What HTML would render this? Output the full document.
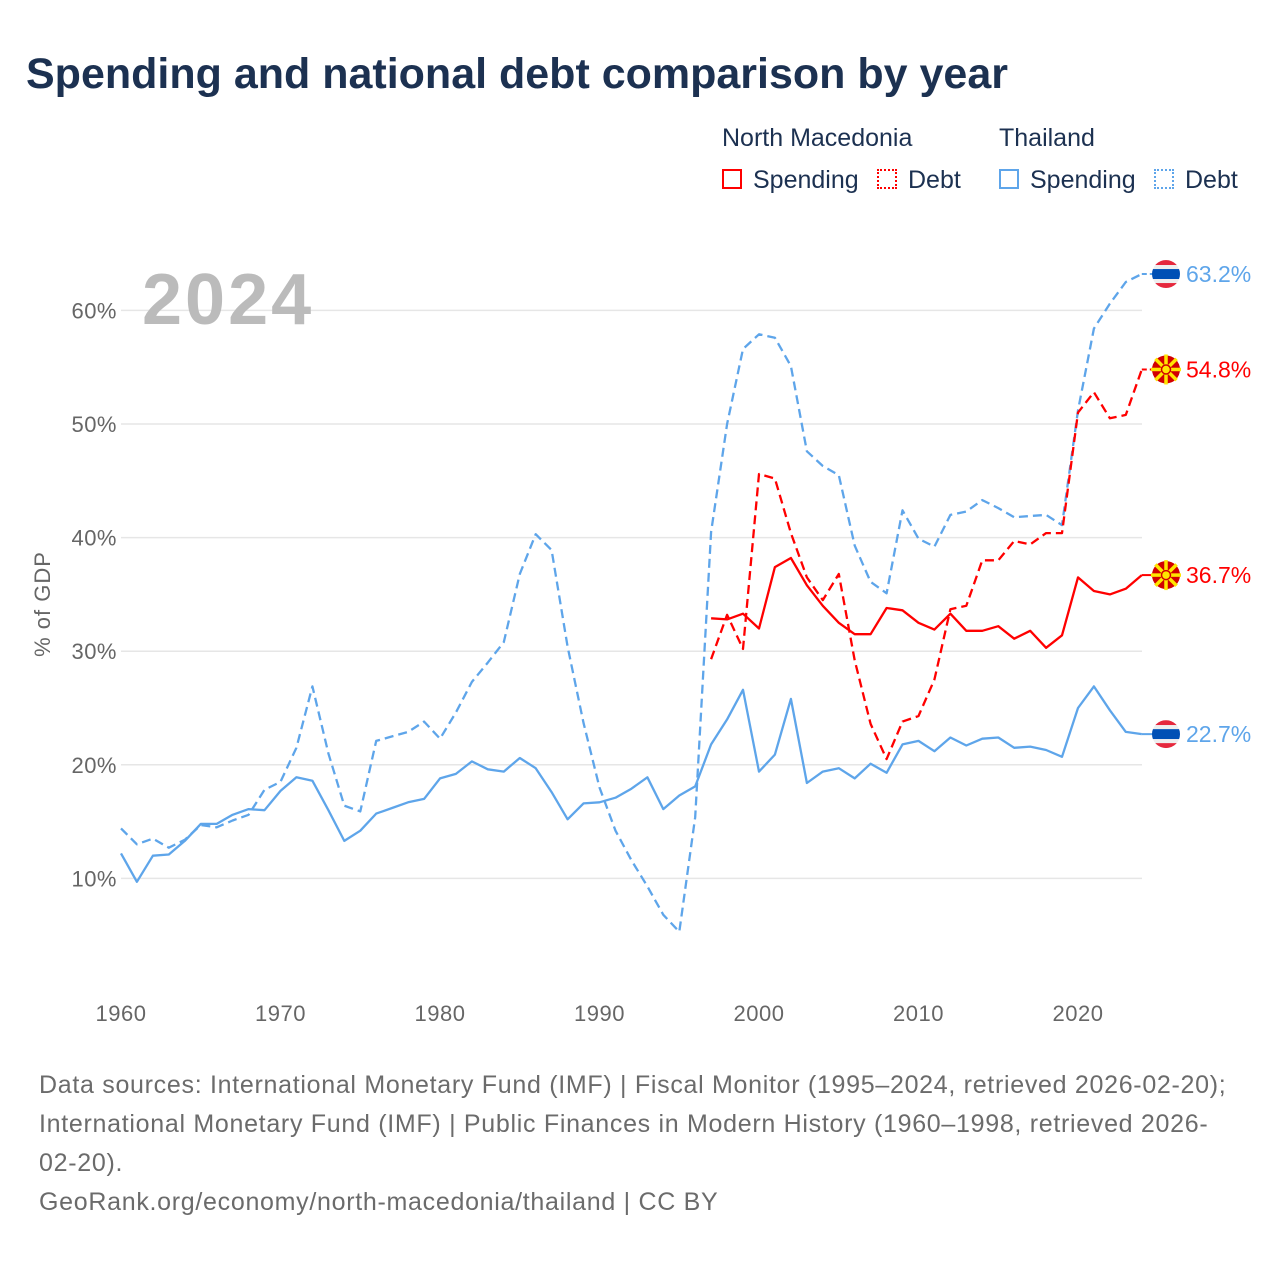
<!DOCTYPE html>
<html><head><meta charset="utf-8"><style>
body{margin:0;background:#fff;font-family:"Liberation Sans",sans-serif;}
#wrap{position:relative;width:1280px;height:1280px;overflow:hidden;}
.title{position:absolute;left:26px;top:50px;font-size:43px;font-weight:bold;color:#1c3151;letter-spacing:0px;}
.lg{position:absolute;font-size:25px;color:#1c3151;}
.box{position:absolute;width:20px;height:20px;box-sizing:border-box;}
.foot{position:absolute;left:39px;top:1066px;font-size:25px;letter-spacing:0.7px;color:#6b6b6b;line-height:39px;width:1200px;}
</style></head><body><div id="wrap">
<div class="title">Spending and national debt comparison by year</div>
<div class="lg" style="left:722px;top:124px">North Macedonia</div>
<div class="lg" style="left:999px;top:124px">Thailand</div>
<div class="box" style="left:722px;top:169px;border:2px solid #f00"></div>
<div class="lg" style="left:753px;top:166px">Spending</div>
<div class="box" style="left:877px;top:169px;border:2px dotted #f00"></div>
<div class="lg" style="left:908px;top:166px">Debt</div>
<div class="box" style="left:999px;top:169px;border:2px solid #5ea5ea"></div>
<div class="lg" style="left:1030px;top:166px">Spending</div>
<div class="box" style="left:1154px;top:169px;border:2px dotted #5ea5ea"></div>
<div class="lg" style="left:1185px;top:166px">Debt</div>
<svg id="chart" width="1280" height="1060" style="position:absolute;left:0;top:0"></svg>
<div class="foot">Data sources: International Monetary Fund (IMF) | Fiscal Monitor (1995–2024, retrieved 2026-02-20); International Monetary Fund (IMF) | Public Finances in Modern History (1960–1998, retrieved 2026-02-20).<br>GeoRank.org/economy/north-macedonia/thailand | CC BY</div>
</div>
<script>
const thaYears0 = 1960;
const thaSpending = [12.2,9.7,12.0,12.1,13.3,14.8,14.8,15.6,16.1,16.0,17.7,18.9,18.6,16.0,13.3,14.2,15.7,16.2,16.7,17.0,18.8,19.2,20.3,19.6,19.4,20.6,19.7,17.6,15.2,16.6,16.7,17.1,17.9,18.9,16.1,17.3,18.1,21.8,24.0,26.6,19.4,20.9,25.8,18.4,19.4,19.7,18.8,20.1,19.3,21.8,22.1,21.2,22.4,21.7,22.3,22.4,21.5,21.6,21.3,20.7,25.0,26.9,24.8,22.9,22.7];
const thaDebt = [14.4,13.0,13.5,12.7,13.4,14.7,14.5,15.1,15.6,17.8,18.5,21.5,26.9,21.0,16.4,15.9,22.1,22.5,22.9,23.8,22.3,24.6,27.3,29.0,30.8,36.8,40.3,38.9,30.4,23.7,18.0,14.2,11.6,9.3,6.8,5.3,15.4,40.5,50.0,56.6,57.9,57.6,55.1,47.6,46.3,45.5,39.3,36.1,35.1,42.4,39.9,39.2,42.0,42.3,43.3,42.6,41.8,41.9,42.0,41.1,51.2,58.4,60.6,62.5,63.2];
const nmkYears0 = 1997;
const nmkSpending = [32.9,32.8,33.3,32.0,37.4,38.2,35.8,34.0,32.5,31.5,31.5,33.8,33.6,32.5,31.9,33.3,31.8,31.8,32.2,31.1,31.8,30.3,31.4,36.5,35.3,35.0,35.5,36.7];
const nmkDebt = [29.3,33.2,30.2,45.6,45.2,40.4,36.5,34.5,36.8,29.2,23.6,20.5,23.8,24.3,27.5,33.7,34.0,38.0,38.0,39.7,39.4,40.4,40.4,51.0,52.8,50.5,50.8,54.8];
const yTicks = [10,20,30,40,50,60];
const xTicks = [1960,1970,1980,1990,2000,2010,2020];

const NS='http://www.w3.org/2000/svg';
const svg=document.getElementById('chart');
const X=y=>121+(y-1960)*15.95;
const Y=v=>992-v*11.36;
function mk(t,a){const e=document.createElementNS(NS,t);for(const k in a)e.setAttribute(k,a[k]);svg.appendChild(e);return e;}
yTicks.forEach(v=>{
  const g=mk('line',{x1:121,x2:1142,y1:Y(v),y2:Y(v),stroke:'#e6e6e6','stroke-width':1.5});
  
  
  const t=mk('text',{x:117,y:Y(v)+8,'text-anchor':'end','font-size':22,'letter-spacing':0.5,fill:'#666','font-family':'Liberation Sans, sans-serif'});
  t.textContent=v+'%';
  
  
});
xTicks.forEach(y=>{
  const t=mk('text',{x:X(y),y:1021,'text-anchor':'middle','font-size':22,'letter-spacing':0.5,fill:'#666','font-family':'Liberation Sans, sans-serif'});
  t.textContent=y;
  
  
});
const yt=mk('text',{x:50,y:604,'text-anchor':'middle','font-size':22,'letter-spacing':1,fill:'#666',transform:'rotate(-90 50 604)','font-family':'Liberation Sans, sans-serif'});
yt.textContent='% of GDP';


const yr=mk('text',{x:142,y:324,'font-size':72,'font-weight':'bold','letter-spacing':3,fill:'#bbb','font-family':'Liberation Sans, sans-serif'});
yr.textContent='2024';


function series(vals,y0,color,dash,name){
  const d=vals.map((v,i)=>(i?'L':'M')+X(y0+i).toFixed(1)+','+Y(v).toFixed(1)).join('');
  const p=mk('path',{d:d,fill:'none',stroke:color,'stroke-width':2.3,'stroke-linejoin':'round'});
  if(dash)p.setAttribute('stroke-dasharray','9,5');
  
  
  const last=vals[vals.length-1];
  const ln=mk('line',{x1:X(2024),x2:1155,y1:Y(last),y2:Y(last),stroke:color,'stroke-width':2});
  if(dash)ln.setAttribute('stroke-dasharray','5,3');
  const lbl=mk('text',{x:1186,y:Y(last)+8,'font-size':23,fill:color,'font-family':'Liberation Sans, sans-serif'});
  lbl.textContent=last.toFixed(1)+'%';
  
  
  return Y(last);
}
function flagTH(cy,name){
  const g=mk('g',{});
  
  
  const cp=mk('clipPath',{id:name+'c'});cp.appendChild(mk('circle',{cx:1166,cy:cy,r:14}));
  [['#e5283d',-14,5],['#eee',-9,4],['#0050b5',-5,10],['#eee',5,4],['#e5283d',9,5]].forEach(s=>{
    const r=mk('rect',{x:1152,y:cy+s[1],width:28,height:s[2],fill:s[0],'clip-path':'url(#'+name+'c)'});g.appendChild(r);});
}
function flagMK(cy,name){
  const g=mk('g',{});
  
  
  g.appendChild(mk('circle',{cx:1166,cy:cy,r:14,fill:'#d20000'}));
  for(let i=0;i<8;i++){const a=i*Math.PI/4;
    g.appendChild(mk('line',{x1:1166,y1:cy,x2:1166+15*Math.cos(a),y2:cy+15*Math.sin(a),stroke:'#ffe600','stroke-width':3.5}));}
  g.appendChild(mk('circle',{cx:1166,cy:cy,r:4.5,fill:'#ffe600',stroke:'#d20000','stroke-width':1.5}));
}
const a=series(thaDebt,thaYears0,'#5ea5ea',true,'line-thailand-debt');
const b=series(thaSpending,thaYears0,'#5ea5ea',false,'line-thailand-spending');
const c=series(nmkDebt,nmkYears0,'#f00',true,'line-north-macedonia-debt');
const d=series(nmkSpending,nmkYears0,'#f00',false,'line-north-macedonia-spending');
flagTH(a,'flag-thailand-debt');flagTH(b,'flag-thailand-spending');
flagMK(c,'flag-nmk-debt');flagMK(d,'flag-nmk-spending');
</script></body></html>
